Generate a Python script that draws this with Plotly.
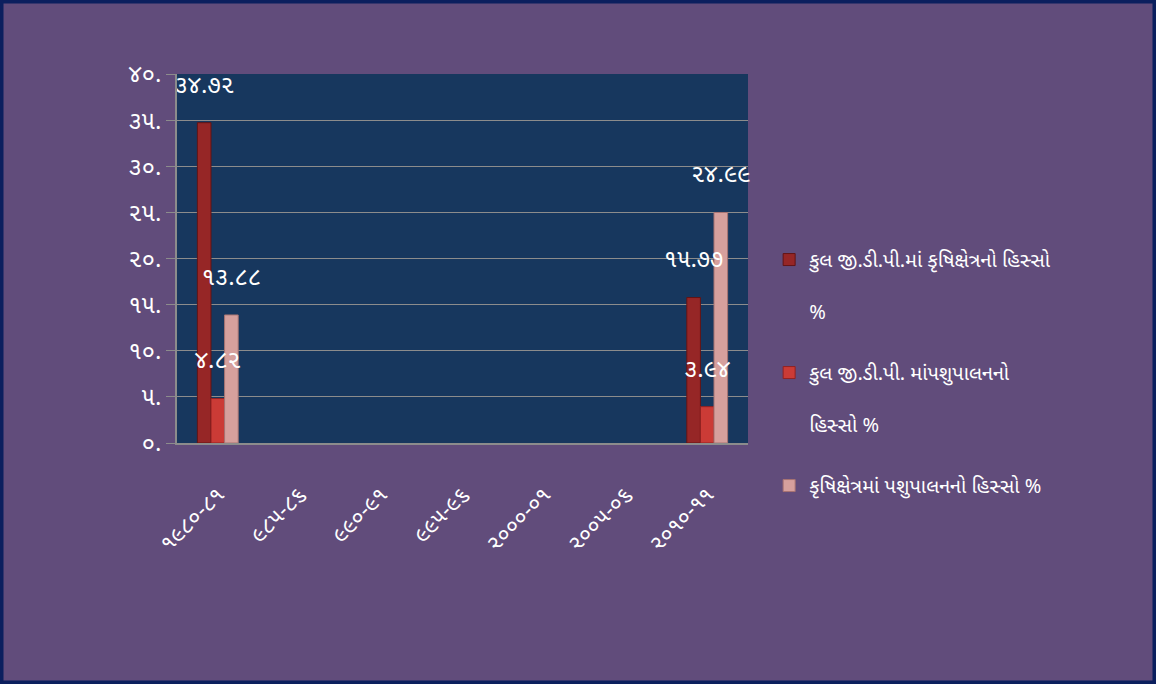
import plotly.graph_objects as go

categories = ["૧૯૮૦-૮૧", "૯૮૫-૮૬", "૯૯૦-૯૧", "૯૯૫-૯૬", "૨૦૦૦-૦૧", "૨૦૦૫-૦૬", "૨૦૧૦-૧૧"]
series_names = [
    "કુલ જી.ડી.પી.માં કૃષિક્ષેત્રનો હિસ્સો<br><br>%",
    "કુલ જી.ડી.પી. માંપશુપાલનનો<br><br>હિસ્સો %",
    "કૃષિક્ષેત્રમાં પશુપાલનનો હિસ્સો %",
]
agri_share_gdp = [34.72, None, None, None, None, None, 15.77]
animal_share_gdp = [4.82, None, None, None, None, None, 3.94]
animal_share_agri = [13.88, None, None, None, None, None, 24.99]
agri_labels = ["૩૪.૭૨", None, None, None, None, None, "૧૫.૭૭"]
animal_gdp_labels = ["૪.૮૨", None, None, None, None, None, "૩.૯૪"]
animal_agri_labels = ["૧૩.૮૮", None, None, None, None, None, "૨૪.૯૯"]
y_tickvals = [0, 5, 10, 15, 20, 25, 30, 35, 40]
y_ticktext = ["૦.", "૫.", "૧૦.", "૧૫.", "૨૦.", "૨૫.", "૩૦.", "૩૫.", "૪૦."]

colors = ["#962626", "#CB3B36", "#D6A09D"]
line_colors = ["#641414", "#922222", "#A87472"]
values = [agri_share_gdp, animal_share_gdp, animal_share_agri]
labels = [agri_labels, animal_gdp_labels, animal_agri_labels]

FONT = "Noto Sans Gujarati, Noto Sans, DejaVu Sans, sans-serif"

fig = go.Figure()
for i in range(3):
    fig.add_trace(go.Bar(
        x=categories, y=values[i], name=series_names[i],
        marker=dict(color=colors[i], line=dict(color=line_colors[i], width=1)),
        offsetgroup=str(i), legendgroup=str(i),
    ))
for i in range(3):
    fig.add_trace(go.Scatter(
        x=categories, y=values[i], text=labels[i], mode="markers+text",
        textposition="top center",
        textfont=dict(color="white", size=24, family=FONT),
        marker=dict(size=37, opacity=0),
        offsetgroup=str(i), showlegend=False, hoverinfo="skip",
        cliponaxis=False,
    ))

ML, MR, MT, MB = 177, 408, 74, 241
W, H = 1156, 684
pw, ph = W - ML - MR, H - MT - MB

fig.update_layout(
    width=W, height=H,
    margin=dict(l=ML, r=MR, t=MT, b=MB),
    paper_bgcolor="#614C7B",
    plot_bgcolor="#17375E",
    barmode="group", bargap=0.5, bargroupgap=0,
    scattermode="group", scattergap=0.5,
    font=dict(family=FONT, color="white"),
    showlegend=True,
    legend=dict(
        x=1.037, y=0.55, xanchor="left", yanchor="top",
        font=dict(size=20, color="white", family=FONT),
        valign="top", tracegroupgap=32, itemwidth=30,
        bgcolor="rgba(0,0,0,0)",
    ),
    xaxis=dict(
        type="category", tickangle=-45,
        tickfont=dict(size=22, color="white", family=FONT),
        showline=True, linecolor="#8C8C8C", linewidth=1.5,
        ticks="", showgrid=False, ticklabelstandoff=28,
    ),
    yaxis=dict(
        range=[0, 40], tickvals=y_tickvals, ticktext=y_ticktext,
        tickfont=dict(size=24, color="white", family=FONT),
        showline=True, linecolor="#8C8C8C", linewidth=1.5,
        showgrid=True, gridcolor="#8C8C8C", gridwidth=1,
        ticks="outside", ticklen=9, tickcolor="#8C8C8C",
        zeroline=False,
    ),
    shapes=[
        dict(type="rect", xref="paper", yref="paper",
             x0=-ML / pw, x1=1 + MR / pw, y0=-MB / ph, y1=1 + MT / ph,
             line=dict(color="#0B1F5E", width=7), fillcolor="rgba(0,0,0,0)", layer="above"),
    ],
)

fig.write_html("out.html")
